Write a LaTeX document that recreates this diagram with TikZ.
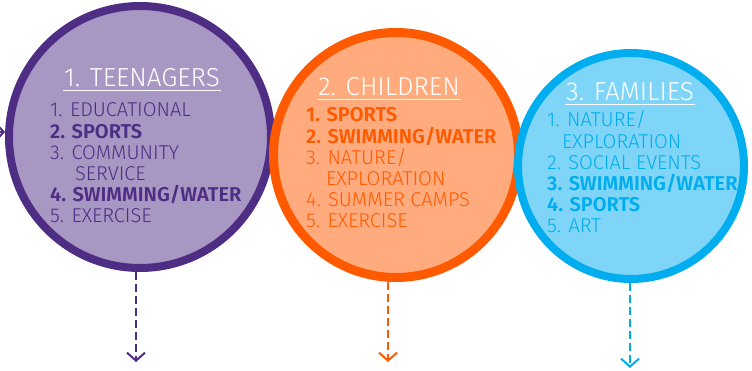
\documentclass[tikz,border=0pt]{standalone}
\usepackage{fontspec}
\setmainfont{Fira Sans}[UprightFont={* Light},BoldFont={* SemiBold}]
\usetikzlibrary{arrows.meta,positioning}

\definecolor{teenline}{HTML}{4E2D84}
\definecolor{teenfill}{HTML}{A897C2}
\definecolor{kidline}{HTML}{FF5A00}
\definecolor{kidfill}{HTML}{FFAB7E}
\definecolor{famline}{HTML}{00AEEF}
\definecolor{famfill}{HTML}{7FD5F7}

\begin{document}
\begin{tikzpicture}[x=1pt,y=-1pt,>={Straight Barb[length=8pt,width=18pt]},
    group/.style={circle,inner sep=0pt},
    heading/.style={text=white,font=\fontsize{26}{26}\selectfont,inner xsep=1pt,inner ysep=3pt,anchor=base},
    items/.style={align=left,anchor=base west,inner sep=0pt,font=\fontsize{20}{21.2}\selectfont},
    flow/.style={->,dash pattern=on 8pt off 4pt,line width=2pt}]

  \useasboundingbox (0,0) rectangle (752,371);

  % the three groups, later ones lie on top
  \node[group,draw=teenline,fill=teenfill,line width=8pt,minimum size=262pt] (teen) at (140,137) {};
  \node[group,draw=kidline,fill=kidfill,line width=9pt,minimum size=245pt] (kid) at (396,155) {};
  \node[group,draw=famline,fill=famfill,line width=8pt,minimum size=226pt] (fam) at (631,166) {};

  \node[heading] (teenhead) at (142,87) {1. TEENAGERS};
  \node[heading] (kidhead) at (389,96) {2. CHILDREN};
  \node[heading] (famhead) at (630,101) {3. FAMILIES};
  \draw[white,line width=0.8pt] (teenhead.south west) -- (teenhead.south east);
  \draw[white,line width=0.8pt] (kidhead.south west) -- (kidhead.south east);
  \draw[white,line width=0.8pt] (famhead.south west) -- (famhead.south east);

  % lists sit on the baseline of their last line
  \node[items,text=teenline] (teenlist) at (50,223) {1. EDUCATIONAL\\
    \textbf{2. SPORTS}\\
    3. COMMUNITY\\
    \hspace*{25pt}SERVICE\\
    \textbf{4. SWIMMING/WATER}\\
    5. EXERCISE};
  \node[items,text=kidline] (kidlist) at (306,228) {\textbf{1. SPORTS}\\
    \textbf{2. SWIMMING/WATER}\\
    3. NATURE/\\
    \hspace*{20pt}EXPLORATION\\
    4. SUMMER CAMPS\\
    5. EXERCISE};
  \node[items,text=famline] (famlist) at (547,233) {1. NATURE/\\
    \hspace*{15pt}EXPLORATION\\
    2. SOCIAL EVENTS\\
    \textbf{3. SWIMMING/WATER}\\
    \textbf{4. SPORTS}\\
    5. ART};

  % arrows in and out
  \coordinate (teenin) at (-20,132);
  \coordinate (teenout) at (136,362);
  \coordinate (kidout) at (388,362);
  \coordinate (famout) at (630,368);
  \draw[->,teenline,line width=2pt] (teenin) -- (teen.west |- teenin);
  \draw[flow,teenline] (teen.south -| teenout) -- (teenout);
  \draw[flow,kidline] (kid.south -| kidout) -- (kidout);
  \draw[flow,famline] (fam.south -| famout) -- (famout);
\end{tikzpicture}
\end{document}
